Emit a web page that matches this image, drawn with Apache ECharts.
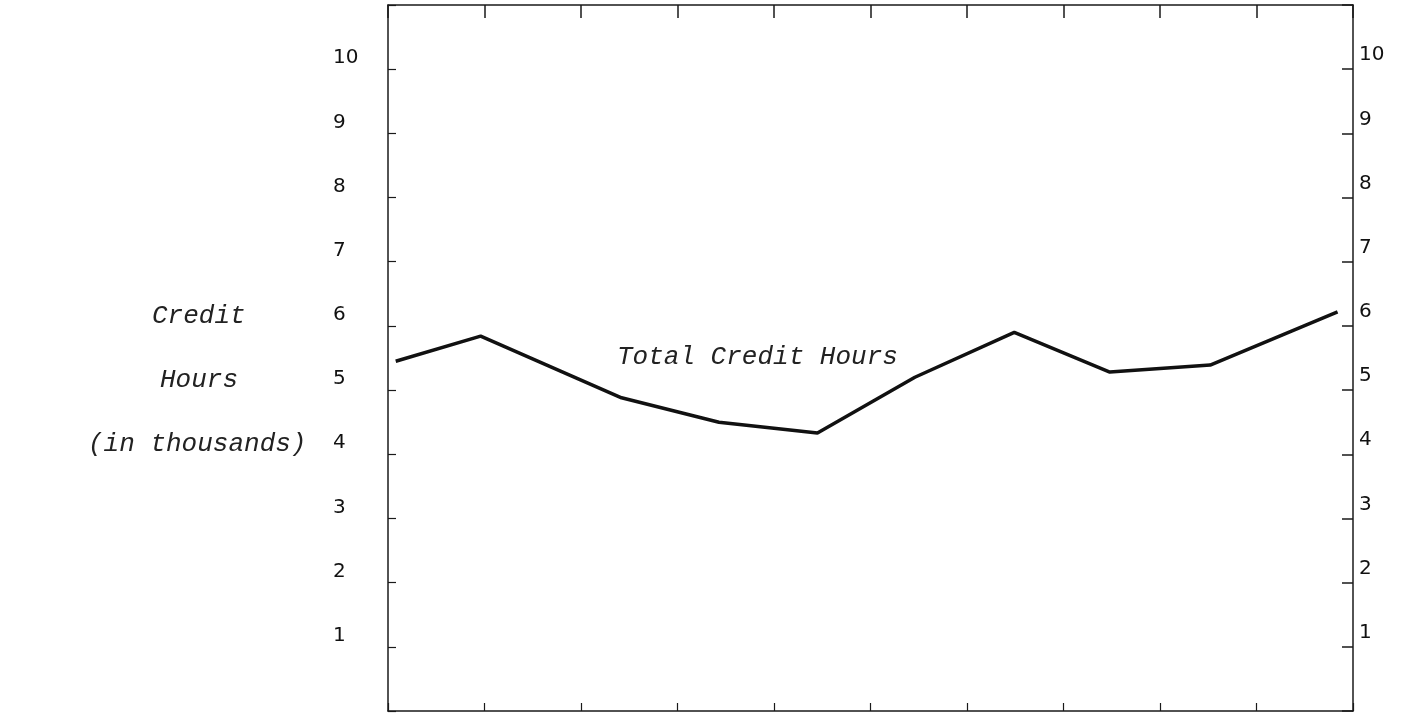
<!DOCTYPE html>
<html>
<head>
<meta charset="utf-8">
<script src="https://cdn.jsdelivr.net/npm/echarts@6/dist/echarts.min.js"></script>
<style>
html,body{margin:0;padding:0;background:#fff;}
#chart{width:1408px;height:717px;}
</style>
</head>
<body>
<div id="chart"></div>
<script>
// Data
var pointPositions = [0.08, 0.96, 2.42, 3.43, 4.45, 5.46, 6.49, 7.48, 8.52, 9.84];
var totalCreditHours = [5.45, 5.84, 4.88, 4.50, 4.33, 5.20, 5.90, 5.28, 5.39, 6.22];
var yTickLabels = ['1','2','3','4','5','6','7','8','9','10'];
var seriesLabel = 'Total Credit Hours';
var axisTitleLines = ['Credit', 'Hours', '(in thousands)'];

var typeFont = '"Liberation Mono", "DejaVu Sans Mono", monospace';
var numFont = '"DejaVu Sans", sans-serif';

function yLabel(v) {
  var s = String(v);
  return yTickLabels.indexOf(s) >= 0 ? s : '';
}

var chart = echarts.init(document.getElementById('chart'), null, {renderer: 'canvas'});
var lineCol = '#1a1a1a';

var baseY = {
  type: 'value', min: 0, max: 11, interval: 1,
  splitLine: {show: false},
  axisLine: {show: true, onZero: false, lineStyle: {color: lineCol, width: 1.5}},
  axisTick: {show: true, inside: true, length: 8, lineStyle: {color: lineCol, width: 1.2}}
};

var option = {
  backgroundColor: '#ffffff',
  animation: false,
  grid: {left: 388, right: 55, top: 5, bottom: 6, containLabel: false},
  xAxis: [
    {type: 'value', min: 0, max: 10, interval: 1, position: 'bottom',
     splitLine: {show: false},
     axisLine: {show: true, onZero: false, lineStyle: {color: lineCol, width: 1.5}},
     axisTick: {show: true, inside: true, length: 8, lineStyle: {color: lineCol, width: 1.2}},
     axisLabel: {show: false}},
    {type: 'value', min: 0, max: 10, interval: 1, position: 'top',
     splitLine: {show: false},
     axisLine: {show: true, onZero: false, lineStyle: {color: lineCol, width: 1.5}},
     axisTick: {show: true, inside: true, length: 13, lineStyle: {color: lineCol, width: 1.5}},
     axisLabel: {show: false}}
  ],
  yAxis: [
    Object.assign({}, baseY, {position: 'left',
      axisLabel: {show: true, formatter: yLabel, align: 'left', verticalAlign: 'bottom',
        lineHeight: 22, margin: 55,
        color: '#111', fontFamily: numFont, fontSize: 20}}),
    Object.assign({}, baseY, {position: 'right',
      axisTick: {show: true, inside: true, length: 11, lineStyle: {color: lineCol, width: 1.5}},
      axisLabel: {show: true, formatter: yLabel, align: 'left', verticalAlign: 'bottom',
        lineHeight: 28, margin: 6,
        color: '#111', fontFamily: numFont, fontSize: 20}})
  ],
  graphic: [
    {type: 'text', left: 617, top: 344, style: {text: seriesLabel, font: 'italic 26px ' + typeFont, fill: '#222'}},
    {type: 'text', left: 152, top: 303, style: {text: axisTitleLines[0], font: 'italic 26px ' + typeFont, fill: '#222'}},
    {type: 'text', left: 160, top: 367, style: {text: axisTitleLines[1], font: 'italic 26px ' + typeFont, fill: '#222'}},
    {type: 'text', left: 88, top: 431, style: {text: axisTitleLines[2], font: 'italic 26px ' + typeFont, fill: '#222'}}
  ],
  series: [{
    type: 'line', xAxisIndex: 0, yAxisIndex: 0,
    data: pointPositions.map(function (x, i) { return [x, totalCreditHours[i]]; }),
    symbol: 'none', smooth: false,
    lineStyle: {color: '#111', width: 3.5}
  }]
};
chart.setOption(option);
</script>
</body>
</html>
